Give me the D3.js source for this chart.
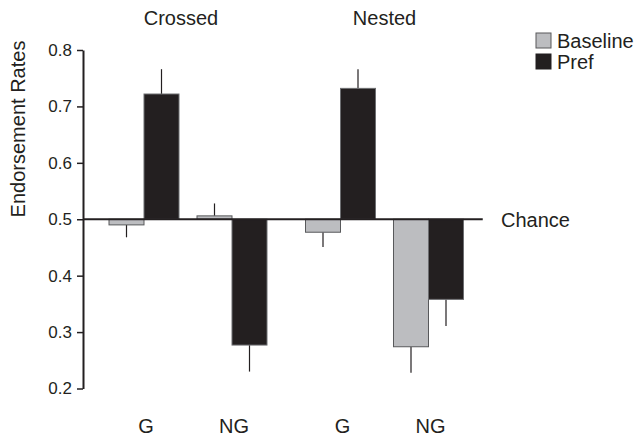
<!DOCTYPE html>
<html>
<head>
<meta charset="utf-8">
<script src="https://cdn.jsdelivr.net/npm/d3@7"></script>
<style>
	body { margin: 0; background: #fff; }
	text { font-family: "Liberation Sans", Arial, sans-serif; fill: #231f20; }
</style>
</head>
<body>
<div id="chart"></div>
<script>
// data
var groups = ["Crossed", "Nested"];
var conditions = ["G", "NG"];
var series = ["Baseline", "Pref"];
var baseline = [0.490, 0.506, 0.477, 0.274];
var baselineErr = [0.022, 0.022, 0.026, 0.046];
var pref = [0.722, 0.277, 0.732, 0.358];
var prefErr = [0.044, 0.047, 0.034, 0.047];
var yTicks = [0.2, 0.3, 0.4, 0.5, 0.6, 0.7, 0.8];
var chance = 0.5;

var width = 636, height = 436;
var axisX = 83;

var svg = d3.select("#chart")
	.append("svg")
	.attr("width", width)
	.attr("height", height);

// (scales)
var y = d3.scaleLinear().domain([0.2, 0.8]).range([388.5, 50]);
var x0 = d3.scaleBand().domain(groups).range([89.75, 482.75]);
var x1 = d3.scalePoint().domain(conditions).range([0, x0.bandwidth()]).padding(0.6165);
var x2 = d3.scaleBand().domain(series).range([-35, 35]);
var color = d3.scaleOrdinal().domain(series).range(["#bcbdc0", "#231f20"]);

// (rows) one row per bar
var rows = [];
groups.forEach(function(g, gi) {
	conditions.forEach(function(c, ci) {
		var i = gi * conditions.length + ci;
		rows.push({group: g, cond: c, series: "Baseline", v: baseline[i], e: baselineErr[i]});
		rows.push({group: g, cond: c, series: "Pref", v: pref[i], e: prefErr[i]});
	});
});
function cx(d) { return x0(d.group) + x1(d.cond); }

// (errors) drawn first so bars cover the base
svg.selectAll("line.err")
	.data(rows)
	.enter()
	.append("line")
	.attr("class", "err")
	.attr("x1", function(d) { return cx(d) + x2(d.series) + x2.bandwidth() / 2; })
	.attr("x2", function(d) { return cx(d) + x2(d.series) + x2.bandwidth() / 2; })
	.attr("y1", function(d) { return y(d.v); })
	.attr("y2", function(d) { return y(d.v >= chance ? d.v + d.e : d.v - d.e); })
	.attr("stroke", "#231f20")
	.attr("stroke-width", 1.2);

// (bars) from chance level
svg.selectAll("rect.bar")
	.data(rows)
	.enter()
	.append("rect")
	.attr("class", "bar")
	.attr("x", function(d) { return cx(d) + x2(d.series); })
	.attr("width", x2.bandwidth())
	.attr("y", function(d) { return y(Math.max(d.v, chance)); })
	.attr("height", function(d) { return Math.abs(y(d.v) - y(chance)); })
	.attr("fill", function(d) { return color(d.series); })
	.attr("stroke", function(d) { return d.series === "Baseline" ? "#58595b" : "#6d6e71"; })
	.attr("stroke-width", 1);

// (axis)
var yAxis = svg.append("g")
	.attr("transform", "translate(" + axisX + ",0)")
	.call(d3.axisLeft(y).tickValues(yTicks).tickFormat(d3.format(".1f"))
		.tickSize(6).tickSizeOuter(0).tickPadding(5));
yAxis.select(".domain").attr("stroke", "#231f20").attr("stroke-width", 2);
yAxis.selectAll(".tick line").attr("stroke", "#231f20").attr("stroke-width", 1.5);
yAxis.selectAll(".tick text")
	.attr("font-size", "17px")
	.attr("font-family", "Liberation Sans, Arial, sans-serif")
	.attr("fill", "#231f20");

// (chance line)
svg.append("line")
	.attr("x1", axisX)
	.attr("x2", x0.range()[1])
	.attr("y1", y(chance))
	.attr("y2", y(chance))
	.attr("stroke", "#231f20")
	.attr("stroke-width", 2);
svg.append("text")
	.attr("x", 501)
	.attr("y", y(chance) + 8)
	.attr("font-size", "20px")
	.text("Chance");

// (titles)
svg.selectAll("text.group")
	.data(groups)
	.enter()
	.append("text")
	.attr("class", "group")
	.attr("text-anchor", "middle")
	.attr("x", function(d, i) { return x0(d) + x0.bandwidth() / 2 - (i === 0 ? 7 : 0); })
	.attr("y", 25)
	.attr("font-size", "20px")
	.text(function(d) { return d; });

// (x labels)
var xl = [];
groups.forEach(function(g) { conditions.forEach(function(c) { xl.push({group: g, cond: c}); }); });
svg.selectAll("text.cond")
	.data(xl)
	.enter()
	.append("text")
	.attr("class", "cond")
	.attr("text-anchor", "middle")
	.attr("x", function(d) { return cx(d) + 2; })
	.attr("y", 433)
	.attr("font-size", "20px")
	.text(function(d) { return d.cond; });

// (y label)
svg.append("text")
	.attr("transform", "translate(25,129) rotate(-90)")
	.attr("text-anchor", "middle")
	.attr("font-size", "20px")
	.text("Endorsement Rates");

// (legend)
var legend = svg.selectAll("g.legend")
	.data(series)
	.enter()
	.append("g")
	.attr("class", "legend")
	.attr("transform", function(d, i) { return "translate(536," + (33 + i * 21) + ")"; });
legend.append("rect")
	.attr("width", 15)
	.attr("height", 15)
	.attr("fill", function(d) { return color(d); })
	.attr("stroke", function(d) { return d === "Baseline" ? "#58595b" : "#231f20"; })
	.attr("stroke-width", 1);
legend.append("text")
	.attr("x", 21)
	.attr("y", 15)
	.attr("font-size", "20px")
	.text(function(d) { return d; });
</script>
</body>
</html>
